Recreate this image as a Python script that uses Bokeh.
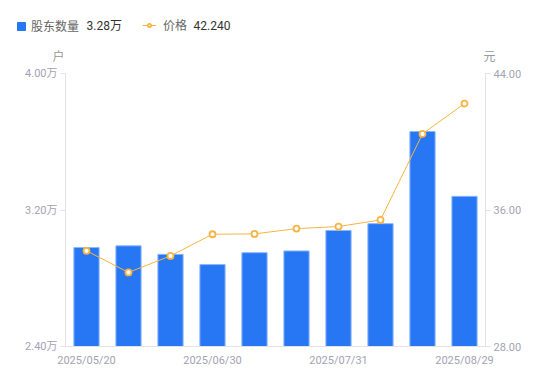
from bokeh.plotting import figure
from bokeh.layouts import column
from bokeh.models import (Range1d, LinearAxis, FixedTicker, CustomJSTickFormatter,
                          Label, Legend, LegendItem, ColumnDataSource, NumeralTickFormatter)
from bokeh.embed import file_html
from bokeh.resources import INLINE

dates = ["2025/05/20", "2025/06/10", "2025/06/20", "2025/06/30", "2025/07/10",
         "2025/07/20", "2025/07/31", "2025/08/10", "2025/08/20", "2025/08/29"]
holders = [2.98, 2.99, 2.94, 2.88, 2.95, 2.96, 3.08, 3.12, 3.66, 3.28]  # 万户
price = [33.61, 32.34, 33.31, 34.58, 34.60, 34.91, 35.03, 35.42, 40.46, 42.24]
shown_dates = ["2025/05/20", "2025/06/30", "2025/07/31", "2025/08/29"]
left_ticks = [2.40, 3.20, 4.00]
right_ticks = [28.0, 36.0, 44.0]

FONT = "Roboto, 'Noto Sans CJK SC', sans-serif"
GRAY = "#a3a3b3"
AXIS = "#e3e3e6"
BLUE = "#2777F4"
BLUE_EDGE = "#8ab6fb"
ORANGE = "#F7B441"

idx = list(range(len(dates)))
src = ColumnDataSource(dict(i=idx, h=holders, p=price))

# ---------- main chart ----------
p = figure(width=534, height=308, x_range=Range1d(-0.5, len(dates) - 0.5),
           y_range=Range1d(2.4, 4.0),
           output_backend="svg", toolbar_location=None,
           min_border_left=65, min_border_right=49, min_border_top=8, min_border_bottom=27)
p.frame_align = False
p.outline_line_color = None
p.grid.visible = False
p.extra_y_ranges = {"price": Range1d(28, 44)}

bar_style = dict(fill_color=BLUE, line_color=BLUE_EDGE, line_width=1)
line_style = dict(color=ORANGE, line_width=1)
pt_style = dict(size=6, fill_color="white", line_color=ORANGE, line_width=1.8)

p.vbar(x="i", top="h", bottom=2.4, width=0.6, source=src, **bar_style)
p.line(x="i", y="p", source=src, y_range_name="price", **line_style)
p.scatter(x="i", y="p", source=src, y_range_name="price", **pt_style)

ya = p.yaxis[0]
ya.ticker = FixedTicker(ticks=left_ticks)
ya.formatter = CustomJSTickFormatter(code="return tick.toFixed(2) + '万';")

ra = LinearAxis(y_range_name="price", ticker=FixedTicker(ticks=right_ticks),
                formatter=NumeralTickFormatter(format="0.00"))
p.add_layout(ra, "right")

for ax in [ya, ra]:
    ax.axis_line_color = AXIS
    ax.major_tick_line_color = AXIS
    ax.major_tick_in = 0
    ax.major_tick_out = 5
    ax.minor_tick_line_color = None
    ax.major_label_text_color = GRAY
    ax.major_label_text_font_size = "11px"
    ax.major_label_text_font = FONT
    ax.major_label_standoff = 3

xa = p.xaxis[0]
xa.ticker = FixedTicker(ticks=[dates.index(d) for d in shown_dates])
xa.formatter = CustomJSTickFormatter(args=dict(labels=dates), code="return labels[tick];")
xa.axis_line_color = AXIS
xa.major_tick_line_color = None
xa.major_tick_in = 0
xa.major_tick_out = 0
xa.minor_tick_line_color = None
xa.major_label_text_color = GRAY
xa.major_label_text_font_size = "11px"
xa.major_label_text_font = FONT
xa.major_label_standoff = 7

# ---------- header: legend and unit titles ----------
# header ranges are far from the data, so the legend proxies draw nothing in the frame
h = figure(width=534, height=65, x_range=Range1d(100, 101), y_range=Range1d(100, 101),
           x_axis_type=None, y_axis_type=None, output_backend="svg", toolbar_location=None,
           min_border_left=0, min_border_right=0, min_border_top=0, min_border_bottom=0)
h.frame_align = False
h.outline_line_color = None
h.grid.visible = False

pbar = h.vbar(x="i", top="h", width=0.6, source=src, fill_color=BLUE, line_color=BLUE)
pline = h.line(x="i", y="p", source=src, **line_style)
ppts = h.scatter(x="i", y="p", source=src, **pt_style)

common = dict(orientation="horizontal", padding=0, margin=0,
              border_line_color=None, background_fill_alpha=0, label_text_font_size="12px",
              label_text_color="#666666", label_text_font=FONT)
leg1 = Legend(items=[LegendItem(label="股东数量", renderers=[pbar])],
              location=(16, 31), glyph_width=10, glyph_height=10, label_standoff=5, **common)
leg2 = Legend(items=[LegendItem(label="价格", renderers=[pline, ppts])],
              location=(142, 32), glyph_width=14, glyph_height=8, label_standoff=7, **common)
h.add_layout(leg1)
h.add_layout(leg2)

for txt, x in [(f"{holders[-1]:.2f}万", 86), (f"{price[-1]:.3f}", 193)]:
    h.add_layout(Label(x=x, y=40, x_units="screen", y_units="screen", text=txt,
                       text_align="left", text_baseline="middle",
                       text_font_size="12px", text_color="#333333", text_font=FONT))

for txt, x in [("户", 58), ("元", 489)]:
    h.add_layout(Label(x=x, y=9, x_units="screen", y_units="screen", text=txt,
                       text_align="center", text_baseline="middle",
                       text_font_size="12px", text_color="#999999", text_font=FONT))

layout = column(h, p, spacing=0)
open("out.html", "w").write(file_html(layout, INLINE))
